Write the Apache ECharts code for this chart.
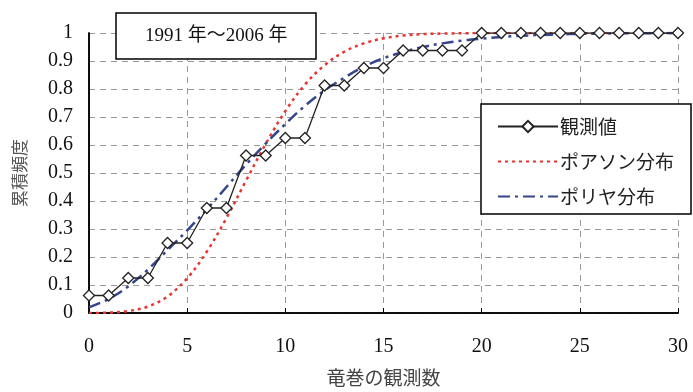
<!DOCTYPE html>
<html><head><meta charset="utf-8">
<script src="https://cdn.jsdelivr.net/npm/echarts@6/dist/echarts.min.js"></script>
<style>html,body{margin:0;padding:0;background:#fff}#c{width:693px;height:392px}</style>
</head><body><div id="c"></div>
<script>
var counts = [0,1,2,3,4,5,6,7,8,9,10,11,12,13,14,15,16,17,18,19,20,21,22,23,24,25,26,27,28,29,30];
var observed = [0.0625,0.0625,0.125,0.125,0.25,0.25,0.375,0.375,0.5625,0.5625,0.625,0.625,0.8125,0.8125,0.875,0.875,0.9375,0.9375,0.9375,0.9375,1,1,1,1,1,1,1,1,1,1,1];
var poisson = [0.0001,0.0014,0.007,0.023,0.059,0.124,0.219,0.339,0.473,0.604,0.721,0.816,0.885,0.933,0.963,0.981,0.991,0.996,0.998,0.999,1,1,1,1,1,1,1,1,1,1,1];
var polya = [0.02,0.05,0.095,0.155,0.225,0.295,0.37,0.45,0.53,0.605,0.675,0.74,0.795,0.84,0.88,0.91,0.932,0.95,0.963,0.973,0.98,0.986,0.99,0.993,0.995,0.997,0.998,0.999,0.999,1,1];
var yTicks = ['0','0.1','0.2','0.3','0.4','0.5','0.6','0.7','0.8','0.9','1'];
var names = ['観測値','ポアソン分布','ポリヤ分布'];
function pairs(v){ return counts.map(function(x,i){return [x,v[i]];}); }
var serif = 'Liberation Serif, DejaVu Serif, Noto Sans CJK JP';
var noSym = {color:'rgba(0,0,0,0)', borderWidth:0, opacity:0};
var chart = echarts.init(document.getElementById('c'));
chart.setOption({
  animation:false,
  title:{text:'1991 年～2006 年', left:116, top:13, padding:[14,29,13,29],
    borderColor:'#000', borderWidth:1.5, backgroundColor:'#fff',
    textStyle:{fontFamily:serif, fontSize:19, fontWeight:'normal', color:'#111'}},
  legend:{orient:'vertical', left:481, top:104, padding:[13,17,8,16],
    borderColor:'#000', borderWidth:1.5, backgroundColor:'#fff',
    itemWidth:60, itemHeight:14, itemGap:16,
    data:[{name:names[0]},{name:names[1], itemStyle:noSym},{name:names[2], itemStyle:noSym}],
    textStyle:{fontFamily:'Noto Sans CJK JP', fontSize:19, color:'#222', padding:[0,0,0,-3]}},
  grid:{left:89, right:15, top:33, bottom:76},
  xAxis:[{type:'value', min:0, max:30, interval:5,
    name:'竜巻の観測数', nameLocation:'middle', nameGap:55,
    nameTextStyle:{fontFamily:'Noto Sans CJK JP', fontSize:19, color:'#444'},
    axisLine:{lineStyle:{color:'#000', width:1.5}},
    axisTick:{inside:true, length:5, lineStyle:{color:'#000'}},
    axisLabel:{margin:24, fontFamily:serif, fontSize:20, color:'#111'},
    splitLine:{show:true, lineStyle:{color:'#999', type:[6,5], width:1}}},
   {type:'value', min:0, max:30, position:'top', axisLine:{show:true, lineStyle:{color:'#000', width:1.5}},
    axisTick:{show:false}, axisLabel:{show:false}, splitLine:{show:false}}],
  yAxis:[{type:'value', min:0, max:1, interval:0.1,
    name:'累積頻度', nameLocation:'middle', nameGap:61, nameRotate:90,
    nameTextStyle:{fontFamily:'Noto Sans CJK JP', fontSize:17, color:'#555'},
    axisLine:{show:true, lineStyle:{color:'#000', width:1.5}},
    axisTick:{show:false},
    axisLabel:{margin:16, fontFamily:serif, fontSize:20, color:'#111',
      formatter:function(v,i){return yTicks[i];}},
    splitLine:{show:true, lineStyle:{color:'#999', type:[6,5], width:1}}},
   {type:'value', min:0, max:1, position:'right', axisLine:{show:true, lineStyle:{color:'#000', width:1.5}},
    axisTick:{show:false}, axisLabel:{show:false}, splitLine:{show:false}}],
  series:[
    {name:names[1], type:'line', data:pairs(poisson), smooth:0.35, showSymbol:false, symbol:'none', z:3,
      lineStyle:{color:'#e8332f', width:2.5, type:[3,4]}, itemStyle:{color:'#e8332f'}},
    {name:names[2], type:'line', data:pairs(polya), smooth:0.35, showSymbol:false, symbol:'none', z:4,
      lineStyle:{color:'#34468c', width:2.5, type:[12,5,3,5]}, itemStyle:{color:'#34468c'}},
    {name:names[0], type:'line', data:pairs(observed), symbol:'diamond', symbolSize:11, z:5,
      lineStyle:{color:'#222', width:1.3}, itemStyle:{color:'#fff', borderColor:'#222', borderWidth:1.3}}
  ]
});
</script></body></html>
